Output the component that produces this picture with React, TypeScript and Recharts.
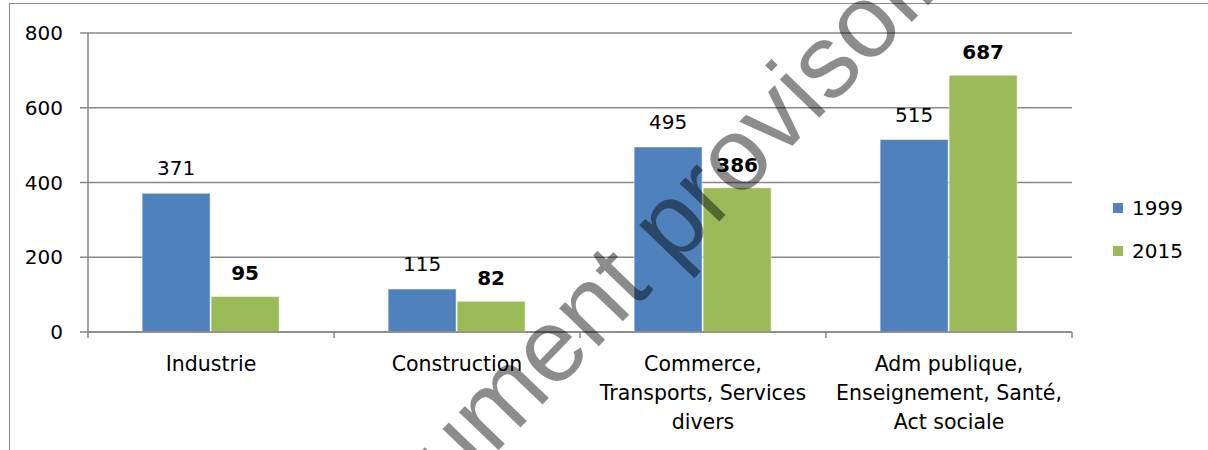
import { BarChart, Bar, XAxis, YAxis, CartesianGrid, LabelList } from "recharts"

const categories = [
  "Industrie",
  "Construction",
  "Commerce, Transports, Services divers",
  "Adm publique, Enseignement, Santé, Act sociale",
]
const tickLines = [
  ["Industrie"],
  ["Construction"],
  ["Commerce,", "Transports, Services", "divers"],
  ["Adm publique,", "Enseignement, Santé,", "Act sociale"],
]
const values1999 = [371, 115, 495, 515]
const values2015 = [95, 82, 386, 687]
const yTicks = [0, 200, 400, 600, 800]
const seriesNames = ["1999", "2015"]

const BLUE = "#4f81bd"
const GREEN = "#9bbb59"
const AXIS = "#878787"
const FONT = "'DejaVu Sans', Verdana, sans-serif"

const data = categories.map((c, i) => ({ cat: c, y1999: values1999[i], y2015: values2015[i] }))

function CatTick(props: any) {
  const { x, y, payload, index } = props
  const off = payload?.offset ?? 123
  const lines = tickLines[index] ?? [payload.value]
  return (
    <g>
      <line x1={x - off} y1={y} x2={x - off} y2={y + 6} stroke={AXIS} strokeWidth={1.5} />
      {index === categories.length - 1 && (
        <line x1={x + off} y1={y} x2={x + off} y2={y + 6} stroke={AXIS} strokeWidth={1.5} />
      )}
      <text x={x} y={y} textAnchor="middle" fontFamily={FONT} fontSize={20.5} fill="#000">
        {lines.map((l, i) => (
          <tspan key={i} x={x} y={y + 39 + i * 29}>{l}</tspan>
        ))}
      </text>
    </g>
  )
}

function LegendBox() {
  const colors = [BLUE, GREEN]
  return (
    <div style={{ position: "absolute", left: 1113, top: 186, fontFamily: FONT, fontSize: 20, color: "#000" }}>
      {seriesNames.map((n, i) => (
        <div key={n} style={{ display: "flex", alignItems: "center", height: 43 }}>
          <span style={{ display: "inline-block", width: 10, height: 10, background: colors[i], marginRight: 9 }} />
          <span>{n}</span>
        </div>
      ))}
    </div>
  )
}

export default function App() {
  return (
    <div style={{ position: "fixed", left: 0, top: 0, width: 1208, height: 450, overflow: "hidden", background: "#fff" }}>
      <div style={{ position: "absolute", left: 9, top: 3, width: 1220, height: 470, border: "1.5px solid #8c8c8c", boxSizing: "border-box" }} />
      <div style={{ position: "absolute", left: 0, top: 0 }}>
        <BarChart
          width={1208}
          height={450}
          data={data}
          margin={{ top: 33, right: 136, left: 8, bottom: 18 }}
          barCategoryGap="22%"
          barGap={1}
        >
          <CartesianGrid vertical={false} stroke={AXIS} strokeWidth={1.5} />
          <XAxis
            dataKey="cat"
            height={100}
            tickLine={false}
            tickSize={0}
            tickMargin={0}
            axisLine={{ stroke: AXIS, strokeWidth: 1.5 }}
            tick={<CatTick />}
            interval={0}
          />
          <YAxis
            width={80}
            domain={[0, 800]}
            ticks={yTicks}
            tickSize={8}
            tickMargin={17}
            tickLine={{ stroke: AXIS, strokeWidth: 1.5 }}
            axisLine={{ stroke: AXIS, strokeWidth: 1.5 }}
            tick={{ fontFamily: FONT, fontSize: 20, fill: "#000" }}
          />
          <Bar dataKey="y1999" name="1999" fill={BLUE} stroke="#ffffff" strokeOpacity={0.5} isAnimationActive={false}>
            <LabelList dataKey="y1999" position="top" offset={18} style={{ fontFamily: FONT, fontSize: 20, fill: "#000" }} />
          </Bar>
          <Bar dataKey="y2015" name="2015" fill={GREEN} stroke="#ffffff" strokeOpacity={0.5} isAnimationActive={false}>
            <LabelList dataKey="y2015" position="top" offset={16} style={{ fontFamily: FONT, fontSize: 20, fontWeight: 700, fill: "#000" }} />
          </Bar>
        </BarChart>
      </div>
      <LegendBox />
      <svg width={1208} height={450} style={{ position: "absolute", left: 0, top: 0, pointerEvents: "none" }}>
        <text
          x={656}
          y={287}
          textAnchor="middle"
          transform="rotate(-46 656 287)"
          fontFamily="'Liberation Sans', Arial, sans-serif"
          fontSize={104}
          fill="#000"
          fillOpacity={0.45}
        >
          Document provisoire
        </text>
      </svg>
    </div>
  )
}
